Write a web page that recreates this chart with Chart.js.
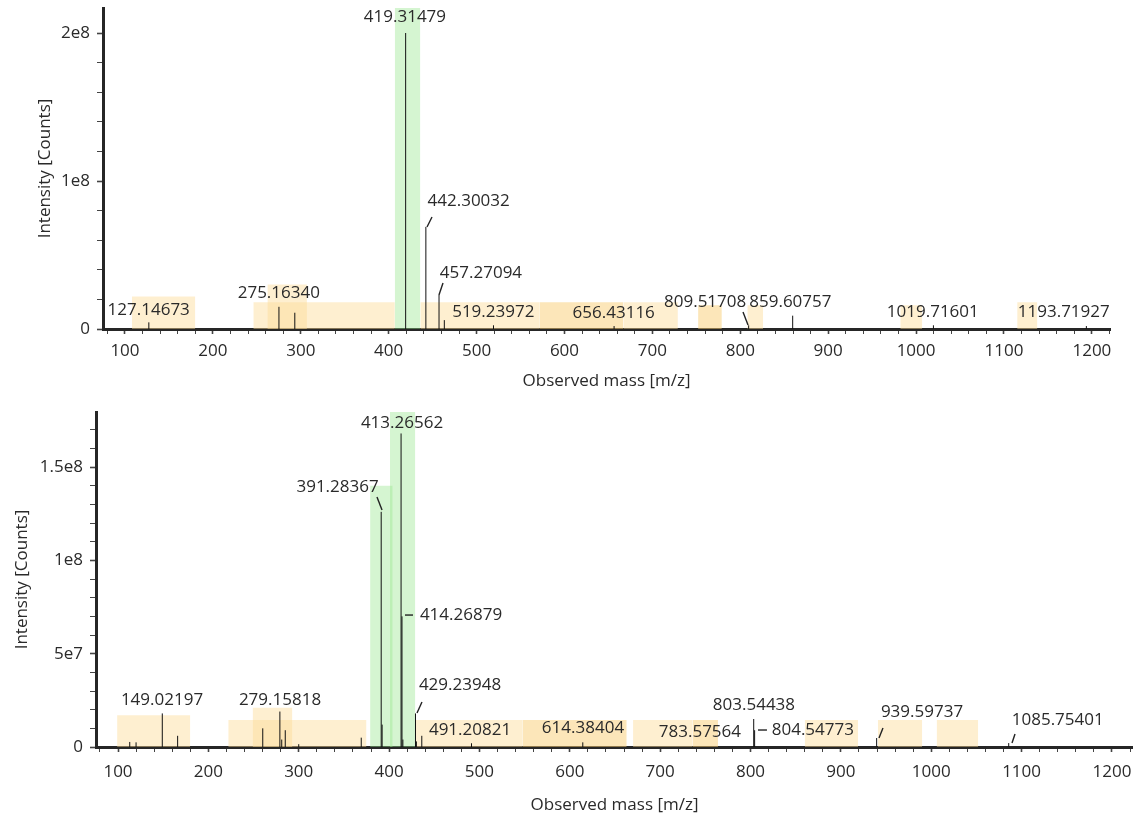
<!DOCTYPE html>
<html lang="en">
<head>
    <meta charset="UTF-8">
    <title>Mass spectra</title>
    <style>
        body { margin: 0; background: #fff; }
        #wrap { position: relative; width: 1133px; height: 815px; overflow: hidden; }
        .box { position: absolute; left: 0; width: 1133px; }
        #topBox { top: 0; height: 395px; }
        #botBox { top: 398px; height: 417px; }
    </style>
    <script src="https://cdn.jsdelivr.net/npm/chart.js"></script>
</head>
<body>
<div id="wrap">
    <div class="box" id="topBox"><canvas id="topChart"></canvas></div>
    <div class="box" id="botBox"><canvas id="botChart"></canvas></div>
</div>

<script>
    // ---- top spectrum ----
    const topPeakMz  = [127.15, 275.16, 293.2, 419.31, 442.30, 457.27, 463.3, 519.24, 656.43, 809.52, 859.61, 1019.72, 1193.72];
    const topPeakInt = [4.5e6, 1.5e7, 1.1e7, 2.0e8, 6.9e7, 2.3e7, 6e6, 2.5e6, 2e6, 2.5e6, 9e6, 2.5e6, 2e6];

    const topLabelText = ['127.14673', '275.16340', '419.31479', '442.30032', '457.27094', '519.23972',
                          '656.43116', '809.51708', '859.60757', '1019.71601', '1193.71927'];
    const topLabelMz   = [127, 275, 418.5, 491, 505, 519, 656, 760, 857, 1019, 1168];
    const topLabelInt  = [1.3e7, 2.4e7, 2.11e8, 8.65e7, 3.8e7, 1.15e7, 1.1e7, 1.8e7, 1.8e7, 1.15e7, 1.15e7];

    // leader ticks from label to peak (m/z, intensity)
    const topLeadMz1  = [449.3, 461.8, 803.1];
    const topLeadInt1 = [7.57e7, 3.11e7, 1.15e7];
    const topLeadMz2  = [443.6, 457.2, 808.8];
    const topLeadInt2 = [6.89e7, 2.3e7, 0.27e7];

    // highlighted m/z windows
    const topGreenStart = [407];
    const topGreenEnd   = [436];
    const topGreenTop   = [2.169e8];
    const topBandStart  = [108, 246, 262, 436, 572, 667, 752, 808, 982, 1115];
    const topBandEnd    = [180, 407, 307, 572, 667, 729, 779, 826, 1007, 1138];
    const topBandTop    = [2.2e7, 1.8e7, 3.0e7, 1.8e7, 1.8e7, 1.8e7, 1.6e7, 1.6e7, 1.6e7, 1.8e7];
    const topBandShade  = [0, 0, 0, 0, 1, 0, 1, 0, 0, 0];

    // ---- bottom spectrum ----
    const botPeakMz  = [113, 120, 149.02, 166.0, 260.2, 279.16, 281.2, 285.1, 300, 369.2, 391.28, 392.29,
                        413.27, 414.27, 415.27, 429.24, 430.24, 436.2, 491.21, 614.38, 803.54, 804.55, 939.60, 1085.75];
    const botPeakInt = [2.7e6, 2.5e6, 1.8e7, 6e6, 1.0e7, 1.9e7, 4e6, 9e6, 1.5e6, 5e6, 1.26e8, 1.2e7,
                        1.68e8, 7.0e7, 4e6, 1.8e7, 3e6, 6e6, 2e6, 2.5e6, 1.5e7, 9e6, 4.8e6, 2.1e6];

    const botLabelText = ['149.02197', '279.15818', '391.28367', '413.26562', '414.26879', '429.23948',
                          '491.20821', '614.38404', '783.57564', '803.54438', '804.54773', '939.59737', '1085.75401'];
    const botLabelMz   = [148.7, 279.3, 343, 414.3, 479.6, 478.5, 489.6, 614.6, 744, 803.8, 869, 989.8, 1140];
    const botLabelInt  = [2.5e7, 2.5e7, 1.39e8, 1.736e8, 7.07e7, 3.3e7, 9.1e6, 1.02e7, 8e6, 2.25e7, 9.1e6, 1.88e7, 1.45e7];

    const botLeadMz1  = [386.6, 417.6, 436.4, 808.3, 946.6, 1092.7];
    const botLeadInt1 = [1.34e8, 7.07e7, 2.41e7, 9.1e6, 1.02e7, 7.0e6];
    const botLeadMz2  = [392.2, 426.5, 430.9, 818.2, 942.2, 1089.4];
    const botLeadInt2 = [1.27e8, 7.07e7, 1.82e7, 9.1e6, 4.8e6, 2.1e6];

    const botGreenStart = [379, 401];
    const botGreenEnd   = [404, 429];
    const botGreenTop   = [1.4e8, 1.795e8];
    const botBandStart  = [99, 222, 249, 429, 548, 670, 736, 860, 941, 1006];
    const botBandEnd    = [180, 375, 293, 548, 663, 736, 764, 919, 990, 1052];
    const botBandTop    = [1.7e7, 1.45e7, 2.1e7, 1.45e7, 1.45e7, 1.45e7, 1.45e7, 1.45e7, 1.45e7, 1.45e7];
    const botBandShade  = [0, 0, 0, 0, 1, 0, 1, 0, 0, 0];

    const SHADES = ['rgba(252, 220, 150, 0.45)', 'rgba(250, 205, 115, 0.5)'];
    const GREEN = 'rgba(150, 230, 140, 0.4)';
    const FONT = '"Open Sans", sans-serif';
    const TEXT = '#2a2a2a';

    function sci(v) {
        if (v === 0) return '0';
        const e = Math.floor(Math.log10(v) + 1e-9);
        const m = +(v / Math.pow(10, e)).toFixed(2);
        return m + 'e' + e;
    }

    // explicit ticks every `step` (chart.js rounds big steps oddly when min/max are set)
    function stepTicks(step) {
        return s => {
            const out = [];
            for (let k = Math.ceil(s.min / step); k * step <= s.max; k++) out.push({ value: k * step });
            s.ticks = out;
        };
    }

    function bandSets(starts, ends, tops, colorOf) {
        return starts.map((s, i) => ({
            data: [{x: s, y: tops[i]}, {x: ends[i], y: tops[i]}],
            fill: 'origin',
            backgroundColor: colorOf(i),
            borderColor: 'transparent',
            borderWidth: 0,
            pointRadius: 0,
            order: 2
        }));
    }

    function peakSet(mz, ints) {
        const pts = [];
        mz.forEach((m, i) => {
            pts.push({x: m, y: 0}, {x: m, y: ints[i]}, {x: m, y: null});
        });
        return {
            data: pts, borderColor: '#111', borderWidth: 1, pointRadius: 0,
            spanGaps: false, fill: false, order: 0
        };
    }

    // draws peak annotations and their small leader lines
    const peakLabels = {
        id: 'peakLabels',
        afterDatasetsDraw(chart, args, o) {
            const {ctx, scales: {x, y}} = chart;
            ctx.save();
            ctx.strokeStyle = '#222';
            ctx.lineWidth = 1.4;
            for (let i = 0; i < o.lx1.length; i++) {
                ctx.beginPath();
                ctx.moveTo(x.getPixelForValue(o.lx1[i]), y.getPixelForValue(o.ly1[i]));
                ctx.lineTo(x.getPixelForValue(o.lx2[i]), y.getPixelForValue(o.ly2[i]));
                ctx.stroke();
            }
            ctx.font = '17px ' + FONT;
            ctx.fillStyle = TEXT;
            ctx.textAlign = 'center';
            ctx.textBaseline = 'middle';
            for (let i = 0; i < o.text.length; i++) {
                ctx.fillText(o.text[i], x.getPixelForValue(o.x[i]), y.getPixelForValue(o.y[i]));
            }
            ctx.restore();
        }
    };

    function makeChart(id, c) {
        const noPad = s => { s.paddingTop = 0; s.paddingBottom = 0; s.paddingLeft = 0; s.paddingRight = 0; };
        return new Chart(document.getElementById(id), {
            type: 'line',
            data: { datasets: [c.peaks, ...c.bands] },
            options: {
                responsive: true,
                maintainAspectRatio: false,
                animation: false,
                layout: { padding: c.pad },
                plugins: { legend: { display: false }, tooltip: { enabled: false }, peakLabels: c.labels },
                scales: {
                    x: {
                        type: 'linear', min: c.xMin, max: c.xMax,
                        afterBuildTicks: stepTicks(20),
                        afterFit: s => { s.height = c.xHeight; noPad(s); },
                        ticks: {
                            autoSkip: false, maxRotation: 0, padding: c.xTickPad,
                            font: { family: FONT, size: 17 }, color: TEXT,
                            callback: v => (Math.round(v) % 100 === 0 ? String(Math.round(v)) : '')
                        },
                        grid: { drawOnChartArea: false, drawTicks: true, tickLength: 5, tickColor: '#444',
                                tickWidth: ctx => (ctx.tick && Math.round(ctx.tick.value) % 100 === 0 ? 1.6 : 1) },
                        border: { display: true, color: '#262626', width: 3 },
                        title: { display: true, text: 'Observed mass [m/z]', color: TEXT,
                                 font: { family: FONT, size: 17 }, padding: { top: 0, bottom: c.xTitlePad } }
                    },
                    y: {
                        min: 0, max: c.yMax,
                        afterBuildTicks: stepTicks(c.yStep),
                        afterFit: s => { s.width = c.yWidth; noPad(s); },
                        ticks: {
                            autoSkip: false, padding: 7,
                            font: { family: FONT, size: 17 }, color: TEXT,
                            callback: v => (Math.round(v / c.yStep) % c.yEvery === 0 ? sci(Math.round(v / c.yStep) * c.yStep) : '')
                        },
                        grid: { drawOnChartArea: false, drawTicks: true, tickLength: 6, tickColor: '#444',
                                tickWidth: ctx => (ctx.tick && Math.round(ctx.tick.value / c.yStep) % c.yEvery === 0 ? 1.6 : 1) },
                        border: { display: true, color: '#262626', width: 3 },
                        title: { display: true, text: 'Intensity [Counts]', color: TEXT,
                                 font: { family: FONT, size: 17 }, padding: { top: c.yTitlePad, bottom: 0 } }
                    }
                }
            },
            plugins: [peakLabels]
        });
    }

    makeChart('topChart', {
        peaks: peakSet(topPeakMz, topPeakInt),
        bands: [
            ...bandSets(topGreenStart, topGreenEnd, topGreenTop, () => GREEN),
            ...bandSets(topBandStart, topBandEnd, topBandTop, i => SHADES[topBandShade[i]])
        ],
        labels: { text: topLabelText, x: topLabelMz, y: topLabelInt,
                  lx1: topLeadMz1, ly1: topLeadInt1, lx2: topLeadMz2, ly2: topLeadInt2 },
        pad: { top: 8, right: 23, bottom: 0, left: 0 },
        xMin: 75, xMax: 1220.6, xHeight: 66, xTickPad: 7, xTitlePad: 4,
        yMax: 2.169e8, yStep: 2e7, yEvery: 5, yWidth: 103, yTitlePad: 35
    });

    makeChart('botChart', {
        peaks: peakSet(botPeakMz, botPeakInt),
        bands: [
            ...bandSets(botGreenStart, botGreenEnd, botGreenTop, () => GREEN),
            ...bandSets(botBandStart, botBandEnd, botBandTop, i => SHADES[botBandShade[i]])
        ],
        labels: { text: botLabelText, x: botLabelMz, y: botLabelInt,
                  lx1: botLeadMz1, ly1: botLeadInt1, lx2: botLeadMz2, ly2: botLeadInt2 },
        pad: { top: 14, right: 0, bottom: 0, left: 0 },
        xMin: 75.65, xMax: 1223.3, xHeight: 68, xTickPad: 10, xTitlePad: 0,
        yMax: 1.795e8, yStep: 1e7, yEvery: 5, yWidth: 96, yTitlePad: 12
    });
</script>
</body>
</html>
